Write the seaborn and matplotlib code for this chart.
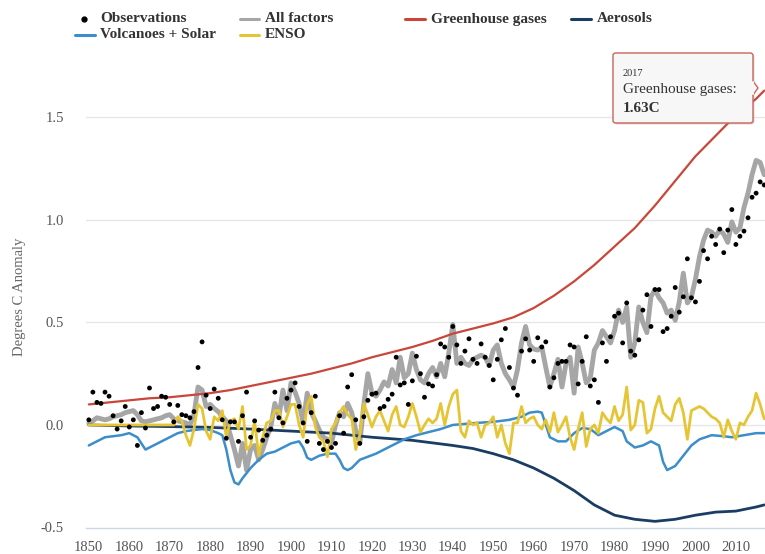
import matplotlib
matplotlib.use("Agg")
import numpy as np
import pandas as pd
import seaborn as sns
from matplotlib import pyplot as plt
from matplotlib.lines import Line2D
from matplotlib.patches import FancyBboxPatch, Polygon

# ---- data ----
years = list(range(1850, 2018))

observations = [
    0.025, 0.16, 0.11, 0.105, 0.16, 0.14, 0.045, -0.02, 0.02, 0.09,
    -0.01, 0.025, -0.10, 0.06, -0.015, 0.18, 0.08, 0.09, 0.14, 0.135,
    0.10, 0.015, 0.095, 0.05, 0.045, 0.035, 0.065, 0.28, 0.405, 0.145,
    0.08, 0.175, 0.13, 0.025, -0.065, 0.015, 0.015, -0.08, 0.045, 0.16,
    -0.06, 0.02, -0.025, -0.075, -0.05, -0.02, 0.16, 0.035, 0.01, 0.13,
    0.17, 0.205, 0.09, 0.01, -0.08, 0.06, 0.14, -0.09, -0.12, -0.08,
    -0.11, -0.09, 0.045, -0.04, 0.185, 0.245, 0.025, -0.09, 0.04, 0.12,
    0.15, 0.155, 0.08, 0.09, 0.125, 0.15, 0.33, 0.195, 0.205, 0.10,
    0.215, 0.335, 0.25, 0.135, 0.20, 0.19, 0.245, 0.395, 0.38, 0.33,
    0.48, 0.39, 0.30, 0.36, 0.42, 0.32, 0.30, 0.395, 0.33, 0.29,
    0.22, 0.32, 0.415, 0.47, 0.28, 0.18, 0.145, 0.36, 0.42, 0.365,
    0.31, 0.425, 0.38, 0.405, 0.185, 0.23, 0.30, 0.31, 0.31, 0.39,
    0.38, 0.20, 0.31, 0.43, 0.19, 0.22, 0.11, 0.40, 0.31, 0.43,
    0.53, 0.545, 0.40, 0.595, 0.36, 0.34, 0.415, 0.56, 0.635, 0.48,
    0.66, 0.66, 0.455, 0.47, 0.53, 0.67, 0.55, 0.625, 0.81, 0.62,
    0.60, 0.70, 0.85, 0.81, 0.92, 0.88, 0.955, 0.84, 0.95, 1.05,
    0.88, 0.92, 0.945, 1.01, 1.11, 1.13, 1.185, 1.17,
]

all_factors = [
    0.01, 0.02, 0.035, 0.03, 0.025, 0.03, 0.04, 0.045, 0.05, 0.06,
    0.065, 0.07, 0.05, 0.02, 0.015, 0.02, 0.025, 0.03, 0.035, 0.045,
    0.05, 0.03, 0.02, 0.015, 0.01, 0.0, 0.05, 0.185, 0.17, 0.09,
    0.10, 0.08, 0.065, 0.04, 0.02, -0.05, -0.12, -0.20, -0.09, -0.22,
    -0.12, -0.10, -0.17, -0.12, -0.06, -0.01, 0.105, 0.04, 0.17, 0.07,
    0.205, 0.16, 0.105, 0.01, 0.155, 0.06, 0.02, -0.025, -0.06, -0.07,
    -0.09, 0.0, 0.06, 0.04, 0.105, 0.06, -0.025, -0.09, 0.10, 0.25,
    0.155, 0.14, 0.17, 0.21, 0.19, 0.27, 0.205, 0.33, 0.23, 0.25,
    0.35, 0.27, 0.22, 0.205, 0.25, 0.28, 0.235, 0.30, 0.235, 0.35,
    0.49, 0.30, 0.33, 0.30, 0.29, 0.32, 0.33, 0.34, 0.33, 0.29,
    0.365, 0.39, 0.30, 0.25, 0.22, 0.185, 0.27, 0.40, 0.48, 0.39,
    0.37, 0.365, 0.38, 0.28, 0.185, 0.25, 0.32, 0.185, 0.30, 0.33,
    0.155, 0.38, 0.30, 0.205, 0.23, 0.365, 0.40, 0.46, 0.43, 0.40,
    0.46, 0.56, 0.50, 0.575, 0.33, 0.40, 0.575, 0.50, 0.45, 0.625,
    0.66, 0.62, 0.595, 0.545, 0.56, 0.51, 0.60, 0.74, 0.595, 0.625,
    0.71, 0.82, 0.90, 0.95, 0.94, 0.92, 0.95, 0.93, 0.89, 0.99,
    0.94, 0.96, 1.06, 1.13, 1.22, 1.29, 1.28, 1.22,
]

enso = [
    0, 0, 0, 0, 0, 0, 0, 0, 0, 0,
    0, 0, 0, 0, 0, 0, 0, 0, 0, 0,
    0.0, 0.0, 0.04, 0.02, -0.05, -0.10, -0.02, 0.10, 0.08, -0.03,
    -0.07, 0.04, 0.02, 0.07, -0.06, 0.02, 0.03, -0.02, 0.09, -0.12,
    -0.10, 0.02, -0.15, -0.06, 0.01, 0.02, 0.07, 0.07, -0.01, 0.04,
    0.10, 0.10, 0.0, -0.06, 0.10, 0.14, -0.01, -0.06, -0.08, -0.155,
    -0.02, 0.01, 0.06, 0.09, 0.05, 0.03, -0.12, -0.05, 0.105, 0.05,
    -0.01, 0.04, 0.07, 0.02, -0.03, 0.05, 0.09, 0.0, -0.01, 0.04,
    0.105, 0.04, -0.035, 0.0, 0.03, 0.01, 0.03, 0.105, 0.0, 0.09,
    0.15, 0.17, -0.03, -0.06, 0.02, 0.0, 0.01, -0.06, 0.0, 0.01,
    0.04, -0.06, 0.0, -0.09, -0.14, 0.01, 0.01, 0.09, 0.01, 0.03,
    0.04, 0.0, -0.02, 0.025, -0.035, 0.06, -0.035, 0.0, 0.04, -0.06,
    -0.12, -0.02, 0.06, -0.105, -0.02, 0.0, -0.04, 0.06, 0.03, 0.01,
    0.09, 0.02, 0.05, 0.185, -0.025, 0.0, 0.12, 0.11, -0.04, -0.02,
    0.08, 0.14, 0.06, 0.04, 0.02, 0.10, 0.13, 0.06, -0.07, 0.07,
    0.08, 0.09, 0.08, 0.06, 0.04, 0.03, 0.01, -0.06, 0.025, -0.03,
    -0.07, 0.01, 0.0, 0.04, 0.07, 0.155, 0.10, 0.03,
]

ghg_years = [1850, 1855, 1860, 1865, 1870, 1875, 1880, 1885, 1890, 1895,
             1900, 1905, 1910, 1915, 1920, 1925, 1930, 1935, 1940, 1945,
             1950, 1955, 1960, 1965, 1970, 1975, 1980, 1985, 1990, 1995,
             2000, 2005, 2010, 2015, 2017]
ghg = [0.10, 0.11, 0.12, 0.13, 0.135, 0.145, 0.155, 0.17, 0.19, 0.21,
       0.23, 0.25, 0.275, 0.30, 0.33, 0.355, 0.38, 0.41, 0.445, 0.47,
       0.495, 0.525, 0.57, 0.63, 0.70, 0.78, 0.87, 0.96, 1.07, 1.19,
       1.31, 1.41, 1.51, 1.59, 1.63]

aer_years = [1850, 1860, 1870, 1880, 1890, 1900, 1910, 1920, 1930, 1940,
             1945, 1950, 1955, 1960, 1965, 1970, 1975, 1980, 1985, 1990,
             1995, 2000, 2005, 2010, 2015, 2017]
aerosols = [0.0, -0.005, -0.008, -0.012, -0.02, -0.03, -0.04, -0.06, -0.075, -0.10,
            -0.115, -0.14, -0.17, -0.21, -0.26, -0.32, -0.39, -0.44, -0.46, -0.47,
            -0.46, -0.44, -0.425, -0.42, -0.40, -0.39]

vs_years = [1850, 1852, 1854, 1856, 1858, 1860, 1862, 1864, 1866, 1868,
            1870, 1872, 1874, 1876, 1878, 1880, 1882, 1883, 1884, 1885,
            1886, 1887, 1888, 1890, 1892, 1894, 1896, 1898, 1900, 1902,
            1903, 1904, 1905, 1907, 1909, 1911, 1912, 1913, 1914, 1915,
            1917, 1919, 1921, 1923, 1925, 1928, 1931, 1934, 1937, 1940,
            1943, 1946, 1950, 1954, 1957, 1959, 1961, 1962, 1963, 1964,
            1966, 1968, 1970, 1972, 1974, 1976, 1978, 1980, 1982, 1983,
            1985, 1987, 1989, 1991, 1992, 1993, 1995, 1997, 1999, 2001,
            2004, 2007, 2009, 2012, 2015, 2017]
volc_solar = [-0.10, -0.08, -0.06, -0.055, -0.05, -0.04, -0.06, -0.12, -0.10, -0.08,
              -0.06, -0.04, -0.03, -0.025, -0.02, -0.025, -0.04, -0.05, -0.12, -0.22,
              -0.28, -0.29, -0.26, -0.21, -0.17, -0.14, -0.13, -0.11, -0.09, -0.08,
              -0.11, -0.16, -0.17, -0.15, -0.14, -0.14, -0.17, -0.21, -0.22, -0.21,
              -0.17, -0.155, -0.14, -0.12, -0.10, -0.07, -0.05, -0.035, -0.02, 0.0,
              0.005, 0.01, 0.015, 0.025, 0.04, 0.06, 0.065, 0.06, 0.0, -0.06,
              -0.08, -0.08, -0.04, -0.015, -0.02, -0.05, -0.03, -0.01, -0.03, -0.08,
              -0.11, -0.10, -0.08, -0.10, -0.18, -0.22, -0.20, -0.15, -0.10, -0.07,
              -0.05, -0.055, -0.06, -0.05, -0.04, -0.04]

yticks = [-0.5, 0.0, 0.5, 1.0, 1.5]
ytick_labels = ["-0.5", "0.0", "0.5", "1.0", "1.5"]
xticks = list(range(1850, 2011, 10))

C_GRAY = "#a6a6a6"
C_RED = "#c8473a"
C_NAVY = "#1c3d63"
C_BLUE = "#3c8ecb"
C_YELLOW = "#e6c535"

sns.set_style("white")
plt.rcParams["font.family"] = ["Liberation Serif", "DejaVu Serif"]

W, H = 765, 554
fig = plt.figure(figsize=(W / 100, H / 100), dpi=100)
ax = fig.add_axes([86 / W, (H - 527.5) / H, (W - 86) / W, (527.5 - 66) / H])

main = pd.DataFrame({"year": years, "obs": observations, "all": all_factors, "enso": enso})
ghg_df = pd.DataFrame({"year": ghg_years, "val": ghg})
aer_df = pd.DataFrame({"year": aer_years, "val": aerosols})
vs_df = pd.DataFrame({"year": vs_years, "val": volc_solar})

for y in [0.0, 0.5, 1.0, 1.5]:
    ax.axhline(y, color="#e6e6e6", lw=1, zorder=0)

sns.lineplot(data=main, x="year", y="all", color=C_GRAY, lw=3.5, ax=ax,
             estimator=None, zorder=2, solid_joinstyle="round")
sns.lineplot(data=ghg_df, x="year", y="val", color=C_RED, lw=1.6, ax=ax, estimator=None, zorder=3)
sns.lineplot(data=aer_df, x="year", y="val", color=C_NAVY, lw=2.0, ax=ax, estimator=None, zorder=3)
sns.lineplot(data=vs_df, x="year", y="val", color=C_BLUE, lw=1.8, ax=ax, estimator=None, zorder=4)
sns.lineplot(data=main, x="year", y="enso", color=C_YELLOW, lw=2.0, ax=ax, estimator=None, zorder=5)
sns.scatterplot(data=main, x="year", y="obs", color="black", s=12, edgecolor="none", ax=ax, zorder=6)

ax.set_xlim(1849.3, 2017.2)
ax.set_ylim(-0.5, 1.75)
ax.set_xticks(xticks)
ax.set_xticklabels([str(t) for t in xticks])
ax.set_yticks(yticks)
ax.set_yticklabels(ytick_labels)
ax.set_xlabel("")
ax.set_ylabel("")
for s in ["top", "right", "left"]:
    ax.spines[s].set_visible(False)
ax.spines["bottom"].set_color("#ccd6eb")
ax.spines["bottom"].set_linewidth(1)
ax.tick_params(axis="x", length=7, width=0.8, color="#ccd6eb", direction="out",
               labelsize=10.5, labelcolor="#555555", pad=3)
ax.tick_params(axis="y", length=0, labelsize=10.5, labelcolor="#555555", pad=16)

fig.text(20 / W, 1 - 297 / H, "Degrees C Anomaly", rotation=90, ha="center", va="center",
         fontsize=10.5, color="#666666")


# ---- legend (two rows, Highcharts style) ----
def legend_item(xm0, xm1, xt, ypx, label, color, dot=False):
    yf = 1 - ypx / H
    if dot:
        fig.add_artist(Line2D([(xm0 + xm1) / 2 / W], [yf], marker="o", ms=3.5, color="black",
                              linestyle="none", transform=fig.transFigure))
    else:
        fig.add_artist(Line2D([xm0 / W, xm1 / W], [yf, yf], color=color, lw=2.2,
                              transform=fig.transFigure))
    fig.text(xt / W, yf, label, ha="left", va="center", fontsize=11, fontweight="bold", color="#333333")


legend_item(78, 90, 100, 19, "Observations", "black", dot=True)
legend_item(240, 259, 265, 19, "All factors", C_GRAY)
legend_item(405, 425, 431, 19, "Greenhouse gases", C_RED)
legend_item(571, 591, 597, 19, "Aerosols", C_NAVY)
legend_item(75, 95, 100, 35, "Volcanoes + Solar", C_BLUE)
legend_item(240, 259, 265, 35, "ENSO", C_YELLOW)

# ---- tooltip for the last greenhouse gas value ----
bx0, bx1, by0, by1 = 613, 753, 53, 123
shadow = FancyBboxPatch(((bx0 + 1.5) / W, 1 - (by1 + 1.5) / H), (bx1 - bx0) / W, (by1 - by0) / H,
                        boxstyle="round,pad=0,rounding_size=0.004", transform=fig.transFigure,
                        facecolor="#999999", edgecolor="none", alpha=0.35, zorder=9)
box = FancyBboxPatch((bx0 / W, 1 - by1 / H), (bx1 - bx0) / W, (by1 - by0) / H,
                     boxstyle="round,pad=0,rounding_size=0.004", transform=fig.transFigure,
                     facecolor="#f7f7f7", edgecolor="#c9645a", lw=1, zorder=10)
arrow = Polygon([(bx1 / W, 1 - 81 / H), (758 / W, 1 - 88 / H), (bx1 / W, 1 - 95 / H)],
                closed=True, transform=fig.transFigure, facecolor="#f7f7f7",
                edgecolor="#c9645a", lw=1, zorder=10)
fig.add_artist(shadow)
fig.add_artist(box)
fig.add_artist(arrow)
fig.add_artist(Line2D([bx1 / W, bx1 / W], [1 - 82 / H, 1 - 94 / H], color="#f7f7f7", lw=1.5,
                      transform=fig.transFigure, zorder=11))
fig.text(623 / W, 1 - 73 / H, str(ghg_years[-1]), fontsize=7.5, color="#333333",
         va="center", ha="left", zorder=12)
fig.text(623 / W, 1 - 90 / H, "Greenhouse gases:", fontsize=11, color="#333333",
         va="center", ha="left", zorder=12)
fig.text(623 / W, 1 - 109 / H, f"{ghg[-1]:.2f}C", fontsize=11, fontweight="bold", color="#333333",
         va="center", ha="left", zorder=12)

fig.savefig("out.png", dpi=100)
